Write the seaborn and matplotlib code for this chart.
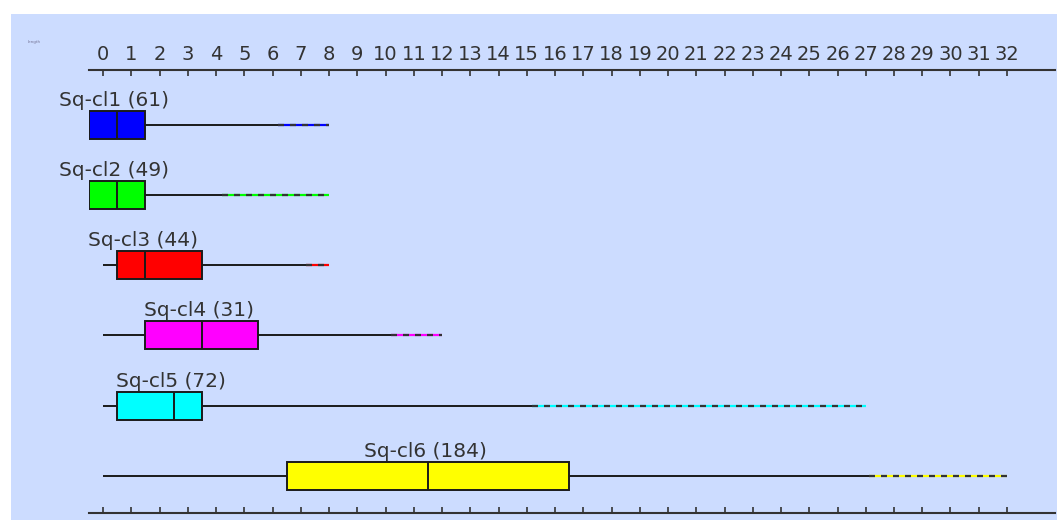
import numpy as np
import pandas as pd
import matplotlib
matplotlib.use("Agg")
import matplotlib.pyplot as plt
from matplotlib.patches import Rectangle
import seaborn as sns

# Cluster summaries (values on the length axis)
clusters = ["Sq-cl1", "Sq-cl2", "Sq-cl3", "Sq-cl4", "Sq-cl5", "Sq-cl6"]
counts = [61, 49, 44, 31, 72, 184]
whisker_low = [-0.5, -0.5, 0.0, 0.0, 0.0, 0.0]
q1 = [-0.5, -0.5, 0.5, 1.5, 0.5, 6.5]
median = [0.5, 0.5, 1.5, 3.5, 2.5, 11.5]
q3 = [1.5, 1.5, 3.5, 5.5, 3.5, 16.5]
whisker_high = [6.2, 4.2, 7.2, 10.2, 15.2, 27.1]
maximum = [8, 8, 8, 12, 27, 32]
colors = ["#0000ff", "#00ff00", "#ff0000", "#ff00ff", "#00ffff", "#ffff00"]
tick_values = list(range(0, 33))

BG = "#ccdcff"
INK = "#333333"

# Five-number rows per cluster so the box statistics land on the summaries
rows = []
for name, lo, a, m, b, hi in zip(clusters, whisker_low, q1, median, q3, whisker_high):
    for v in (lo, a, m, b, hi):
        rows.append({"cluster": name, "value": v})
df = pd.DataFrame(rows)

sns.set_style("white")
plt.rcParams["font.family"] = ["DejaVu Sans"]

W, H = 1057, 520
fig = plt.figure(figsize=(W / 100, H / 100), dpi=100)
fig.patch.set_facecolor("white")
fig.patches.append(Rectangle((11 / W, 0), 1 - 11 / W, 1 - 14 / H,
                             transform=fig.transFigure, facecolor=BG,
                             edgecolor="none", zorder=-10))

ax = fig.add_axes([89 / W, 7 / H, (1055 - 89) / W, (513 - 70) / H])
ax.set_facecolor(BG)

sns.boxplot(data=df, x="value", y="cluster", hue="cluster", order=clusters,
            hue_order=clusters, palette=colors, saturation=1, whis=np.inf,
            width=0.4, linecolor="#1a1a1a", linewidth=1.4, legend=False,
            showcaps=False, ax=ax)

# Upper tails beyond the solid whisker: coloured line broken by dark dashes
for i, (hi, mx, c) in enumerate(zip(whisker_high, maximum, colors)):
    ax.hlines(i, hi, mx, colors=c, linewidth=1.6, zorder=1)
    ax.hlines(i, hi, mx, colors=INK, linewidth=1.6, linestyles=(0, (2.7, 2.7)),
              zorder=1.1)

# Cluster name and size above each box
for i, (name, n, m) in enumerate(zip(clusters, counts, median)):
    ax.text(m - 0.1, i - 0.35, f"{name} ({n})", ha="center", va="center",
            fontsize=14.5, color=INK)

ax.set_xlim(-0.5, 33.7)
ax.set_ylim(5.53, -0.78)
ax.set_xticks(tick_values)
ax.set_xticklabels([str(v) for v in tick_values])
ax.set_yticks([])
ax.set_xlabel("")
ax.set_ylabel("")

ax.tick_params(axis="x", which="both", direction="in", length=4, width=1.2,
               color=INK, labelcolor=INK, labelsize=14, top=True, bottom=True,
               labeltop=True, labelbottom=False, pad=4)
for side in ("left", "right"):
    ax.spines[side].set_visible(False)
for side in ("top", "bottom"):
    ax.spines[side].set_visible(True)
    ax.spines[side].set_color(INK)
    ax.spines[side].set_linewidth(1.5)

fig.text(28 / W, 1 - 42 / H, "length", fontsize=3, color="#777799",
         va="center", ha="left")

fig.savefig("out.png", dpi=100, facecolor=fig.get_facecolor())
